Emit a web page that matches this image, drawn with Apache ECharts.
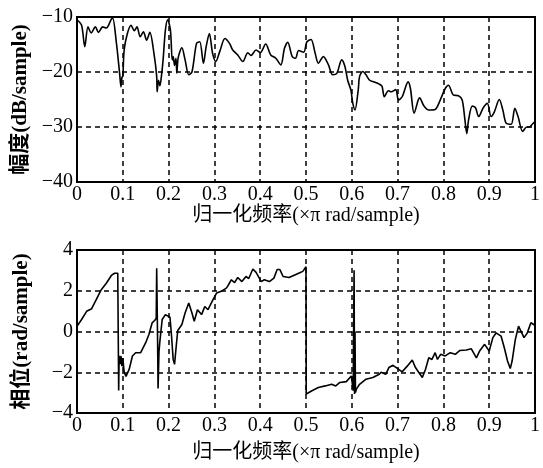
<!DOCTYPE html>
<html>
<head>
<meta charset="utf-8">
<script src="https://cdn.jsdelivr.net/npm/echarts@6/dist/echarts.min.js"></script>
<style>html,body{margin:0;padding:0;background:#fff}#c{width:543px;height:468px}</style>
</head>
<body>
<div id="c"></div>
<script>
// Magnitude response (frequency ×π rad/sample, dB/sample)
const magFreq = [0,0.01,0.017,0.024,0.031,0.040,0.047,0.056,0.064,0.075,0.078,0.086,0.093,0.096,0.098,0.100,0.103,0.110,0.118,0.125,0.131,0.138,0.145,0.152,0.159,0.168,0.174,0.175,0.178,0.181,0.184,0.188,0.193,0.198,0.204,0.208,0.210,0.213,0.216,0.218,0.221,0.229,0.236,0.244,0.251,0.261,0.268,0.276,0.282,0.289,0.296,0.303,0.312,0.323,0.333,0.340,0.351,0.362,0.373,0.380,0.391,0.400,0.412,0.423,0.434,0.445,0.453,0.460,0.470,0.477,0.484,0.495,0.502,0.511,0.520,0.527,0.538,0.549,0.558,0.567,0.578,0.585,0.591,0.598,0.602,0.607,0.614,0.617,0.624,0.631,0.639,0.649,0.660,0.666,0.671,0.680,0.686,0.696,0.702,0.710,0.723,0.728,0.736,0.745,0.748,0.757,0.768,0.782,0.793,0.804,0.811,0.822,0.833,0.841,0.847,0.851,0.855,0.863,0.870,0.877,0.887,0.896,0.904,0.911,0.922,0.930,0.937,0.948,0.956,0.963,0.973,0.982,0.988,0.994,1.0];
const magValue = [-10.5,-11.5,-15.4,-11.8,-12.9,-11.8,-12.8,-11.8,-12.0,-10.4,-10.2,-14.7,-20.2,-22.7,-21.0,-20.8,-16.0,-13.0,-11.5,-12.5,-11.8,-13.6,-12.7,-14.2,-12.8,-16.6,-20.8,-23.6,-21.5,-22.5,-21.0,-17.8,-12.4,-10.5,-12.4,-17.8,-17.2,-18.8,-17.5,-20.2,-17.4,-15.6,-17.8,-20.5,-20.0,-14.8,-14.5,-18.4,-15.4,-13.0,-16.6,-18.1,-16.2,-13.9,-14.8,-16.0,-16.9,-18.1,-16.5,-17.0,-16.0,-16.5,-14.9,-16.9,-17.5,-18.7,-15.7,-14.6,-17.2,-17.5,-16.1,-16.4,-14.5,-14.1,-16.6,-18.4,-17.2,-18.7,-20.5,-20.3,-17.8,-19.0,-21.5,-23.3,-25.6,-26.9,-23.3,-20.8,-19.9,-20.5,-21.5,-21.8,-22.2,-22.6,-24.5,-23.4,-23.6,-23.2,-25.1,-24.5,-21.8,-23.0,-27.5,-25.1,-24.7,-26.1,-26.9,-26.8,-25.1,-23.0,-22.4,-24.2,-24.3,-25.1,-28.7,-31.2,-28.7,-26.2,-26.5,-28.1,-26.5,-25.7,-28.1,-27.3,-25.0,-27.0,-29.3,-29.5,-26.6,-28.1,-30.8,-30.0,-30.0,-29.5,-29.0];

// Phase response (rad/sample)
const phaseFreq = [0,0.01,0.021,0.032,0.042,0.053,0.064,0.075,0.082,0.089,0.090,0.091,0.092,0.094,0.096,0.098,0.100,0.103,0.107,0.114,0.121,0.128,0.139,0.143,0.150,0.157,0.164,0.170,0.173,0.174,0.176,0.177,0.179,0.181,0.186,0.193,0.203,0.206,0.210,0.213,0.217,0.220,0.229,0.236,0.244,0.251,0.256,0.263,0.272,0.279,0.286,0.297,0.305,0.315,0.326,0.330,0.337,0.344,0.351,0.360,0.369,0.375,0.384,0.391,0.398,0.402,0.409,0.420,0.430,0.437,0.443,0.450,0.463,0.473,0.484,0.493,0.500,0.5005,0.513,0.527,0.542,0.556,0.565,0.574,0.588,0.599,0.603,0.605,0.606,0.607,0.608,0.610,0.617,0.631,0.646,0.660,0.664,0.674,0.681,0.690,0.697,0.710,0.721,0.732,0.739,0.746,0.754,0.761,0.768,0.775,0.782,0.787,0.794,0.804,0.815,0.826,0.836,0.850,0.861,0.872,0.879,0.890,0.894,0.900,0.908,0.915,0.926,0.933,0.940,0.946,0.950,0.957,0.964,0.968,0.976,0.983,0.991,0.998,1.0];
const phaseValue = [0.26,0.59,0.99,1.12,1.56,2.05,2.37,2.75,2.86,2.86,2.9,-2.9,-1.2,-1.6,-1.2,-1.7,-1.3,-2.0,-2.2,-1.85,-1.2,-1.04,-1.04,-0.95,-0.55,-0.15,0.42,0.55,0.65,3.1,-0.5,-2.8,-1.0,-0.47,0.59,0.83,0.70,-0.1,-1.37,-1.61,-0.63,0.05,0.34,0.91,1.40,0.91,0.50,1.07,0.83,1.23,1.07,1.56,1.89,1.97,2.13,2.26,2.54,2.40,2.65,2.45,2.70,2.60,3.07,2.90,2.62,2.45,2.54,2.45,2.62,3.04,3.04,2.70,2.65,2.75,2.86,2.95,3.18,-3.07,-2.91,-2.75,-2.67,-2.59,-2.67,-2.50,-2.46,-2.18,-2.9,3.0,-3.07,0.0,-3.0,-2.83,-2.59,-2.34,-2.26,-2.10,-2.0,-2.1,-1.77,-1.66,-1.77,-1.98,-1.70,-1.40,-1.77,-2.00,-2.26,-1.85,-1.29,-1.37,-1.04,-1.37,-1.12,-1.20,-1.04,-1.12,-0.93,-0.91,-0.85,-1.29,-0.96,-0.63,-0.60,-0.96,-0.30,-0.07,-0.23,-0.80,-1.45,-1.82,-1.45,-0.40,0.26,0.20,-0.30,-0.08,0.43,0.33,0.26];

const xTickLabels = ['0','0.1','0.2','0.3','0.4','0.5','0.6','0.7','0.8','0.9','1'];
const xTitle = '归一化频率(×π rad/sample)';
const magTitle = '幅度(dB/sample)';
const phaseTitle = '相位(rad/sample)';

const magData = magFreq.map((f, i) => [f, magValue[i]]);
const phaseData = phaseFreq.map((f, i) => [f, phaseValue[i]]);

const serif = '"Liberation Serif","Noto Sans CJK SC",serif';
const dash = {color: '#000', width: 1.5, type: [5, 4]};
const fmtY = v => (v < 0 ? '\u2212' + Math.abs(v) : String(v));

function xAxisDef(gridIndex, gap) {
  return {
    type: 'value', gridIndex, min: 0, max: 1, interval: 0.1,
    name: xTitle, nameLocation: 'middle', nameGap: gap,
    nameTextStyle: {color: '#000', fontFamily: serif, fontSize: 20},
    axisLine: {show: true, onZero: false, lineStyle: {color: '#000', width: 2}},
    axisTick: {show: false},
    axisLabel: {color: '#000', fontFamily: serif, fontSize: 20, margin: 3,
      formatter: v => xTickLabels[Math.round(v * 10)]},
    splitLine: {show: true, lineStyle: dash}
  };
}
function yAxisDef(gridIndex, min, max, interval, title) {
  return {
    type: 'value', gridIndex, min, max, interval,
    name: title, nameLocation: 'middle', nameGap: 45,
    nameTextStyle: {color: '#000', fontFamily: serif, fontSize: 21, fontWeight: 'bold'},
    axisLine: {show: true, onZero: false, lineStyle: {color: '#000', width: 2}},
    axisTick: {show: false},
    axisLabel: {color: '#000', fontFamily: serif, fontSize: 20, margin: 4, formatter: fmtY},
    splitLine: {show: true, lineStyle: dash}
  };
}

const chart = echarts.init(document.getElementById('c'), null, {renderer: 'canvas'});
chart.setOption({
  animation: false,
  backgroundColor: '#fff',
  grid: [
    {left: 77, top: 17, width: 464, height: 165, show: true, borderColor: '#000', borderWidth: 2},
    {left: 77, top: 250, width: 464, height: 163, show: true, borderColor: '#000', borderWidth: 2}
  ],
  xAxis: [xAxisDef(0, 24), xAxisDef(1, 30)],
  yAxis: [yAxisDef(0, -40, -10, 10, magTitle), yAxisDef(1, -4, 4, 2, phaseTitle)],
  series: [
    {type: 'line', xAxisIndex: 0, yAxisIndex: 0, data: magData, showSymbol: false,
      lineStyle: {color: '#000', width: 1.6}, smooth: 0.3},
    {type: 'line', xAxisIndex: 1, yAxisIndex: 1, data: phaseData, showSymbol: false,
      lineStyle: {color: '#000', width: 1.6}}
  ]
});
</script>
</body>
</html>
